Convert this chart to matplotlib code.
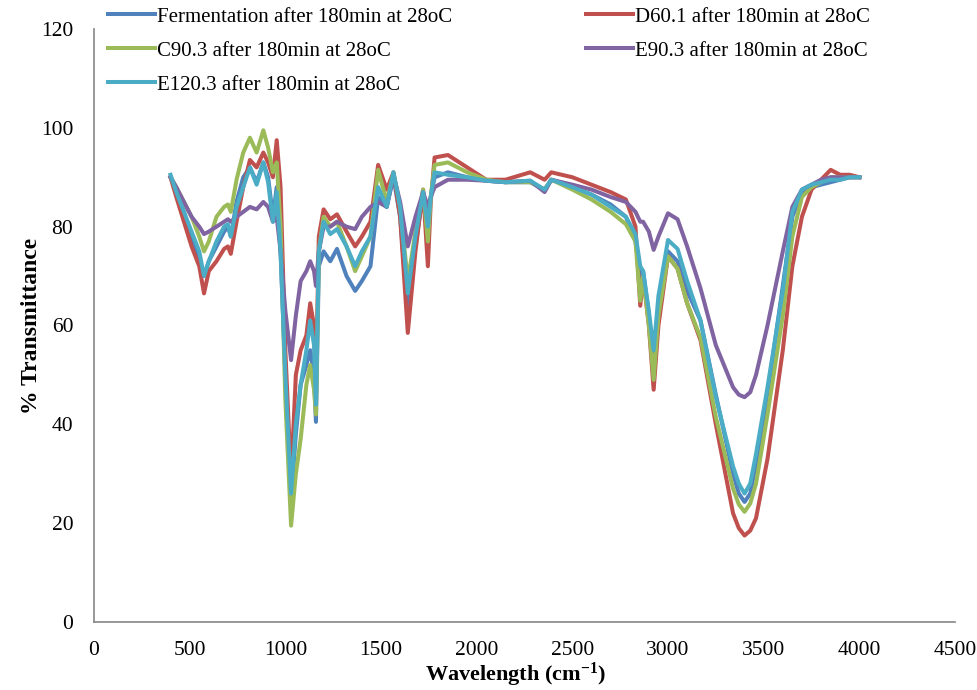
import numpy as np
import matplotlib
matplotlib.use("Agg")
import matplotlib.pyplot as plt

# FTIR spectra (wavenumber in cm-1, % transmittance)
wavenumber = [400, 430, 470, 510, 550, 575, 600, 640, 680, 700, 715, 745, 780, 815, 850,
              885, 910, 935, 955, 975, 1000, 1030, 1055, 1080, 1110, 1130, 1150, 1160, 1175,
              1200, 1235, 1270, 1320, 1365, 1400, 1445, 1485, 1530, 1565, 1600, 1640, 1680,
              1720, 1745, 1760, 1780, 1850, 1950, 2050, 2150, 2280, 2355, 2390, 2500, 2600,
              2700, 2780, 2830, 2855, 2870, 2900, 2925, 2950, 3000, 3050, 3100, 3170, 3250,
              3340, 3370, 3400, 3430, 3460, 3520, 3600, 3650, 3700, 3750, 3800, 3850, 3900,
              3950, 4000]

fermentation = [90, 87, 83, 78, 73, 70, 73, 76, 79, 80, 78, 85, 90, 92, 89,
                93, 90, 82, 88, 75, 50, 25, 38, 48, 52, 55, 50, 40.5, 72,
                75, 73, 75.5, 70, 67, 69, 72, 86, 84, 90, 82, 62.5, 76,
                87, 80, 86, 90, 91, 90, 89.3, 89, 89, 87.5, 89.5, 88, 86.5,
                84.5, 82, 77, 70, 71, 62, 50, 63, 75, 73, 67, 61, 46,
                30, 26, 24.3, 26, 32, 46, 68, 82, 87, 88, 88.5, 89, 89.5,
                90, 90]

d60 = [90, 86, 81, 76, 72, 66.5, 71, 73, 75.5, 76, 74.5, 81, 88, 93.5, 92,
       95, 93, 90, 97.5, 88, 55, 29, 50, 55, 58, 64.5, 60, 48, 78,
       83.5, 81.5, 82.5, 79, 76, 78, 81, 92.5, 87.5, 91, 82, 58.5, 75,
       87.5, 72, 85, 94, 94.5, 92, 89.5, 89.5, 91, 89.5, 91, 90, 88.5,
       87, 85.5, 80, 64, 70, 60, 47, 60, 74, 71.5, 64.5, 57, 40,
       22, 19, 17.5, 18.5, 21, 33, 55, 72, 82, 87.5, 89.5, 91.5, 90.5,
       90.5, 90]

c90 = [90, 88, 85, 82, 78, 75, 77, 82, 84, 84.5, 83, 89.5, 95, 98, 95,
       99.5, 96, 91, 93, 80, 45, 19.5, 30, 37, 48, 52, 47, 42, 75,
       82, 80, 81, 76, 71, 74, 78, 91.5, 85, 91, 84, 69, 79,
       87.5, 77, 86, 92.5, 93, 91, 89.5, 89, 89, 87.5, 89.5, 87.5, 85.5,
       83, 80.5, 77, 65, 70, 60, 49, 62, 74, 71.5, 64.5, 57.5, 41.5,
       27, 23.8, 22.3, 24, 28, 42, 62, 78, 86, 88, 89, 90, 90,
       90, 90]

e90 = [90, 88, 85, 82, 80, 78.5, 79, 80, 81, 81.5, 81, 82, 83, 84, 83.5,
       85, 84, 81, 82, 75, 63, 53, 62, 69, 71, 73, 71, 68, 75,
       80, 80, 81, 80, 79.5, 82, 84, 85, 84, 90.5, 85, 76, 82,
       87, 84, 86, 88, 89.5, 89.5, 89.3, 89, 89.3, 87, 89.5, 88.5, 87.5,
       86, 85, 83, 81, 81, 79, 75.3, 78, 82.7, 81.5, 76, 67.5, 56,
       47.5, 46, 45.5, 46.5, 50, 60, 75, 84, 87.5, 88.5, 89.5, 90, 90,
       90, 90]

e120 = [90.5, 87, 83, 79, 75, 70, 73, 77, 80, 80.5, 78, 84, 88, 92, 88.5,
        93, 89, 81, 87, 75, 50, 26, 40, 48, 55, 61, 56, 44, 75,
        81, 78.5, 79.5, 76, 72, 75, 78, 88, 84, 91, 84, 66.5, 78,
        87, 80, 86, 91, 90.5, 90, 89.3, 89, 89.3, 87.5, 89.5, 88, 86.5,
        84, 82, 78.5, 72, 71, 63, 55, 66, 77.3, 75.5, 69, 61, 45.5,
        31.5, 28, 26, 28, 34, 47.5, 67, 83, 87.5, 88.5, 89, 89.5, 89.5,
        90, 90]

labels = ["Fermentation after 180min at 28oC", "D60.1 after 180min at 28oC",
          "C90.3 after 180min at 28oC", "E90.3 after 180min at 28oC",
          "E120.3 after 180min at 28oC"]
colors = ["#4F81BD", "#C0504D", "#9BBB59", "#8064A2", "#4BACC6"]

plt.rcParams["font.family"] = ["Liberation Serif", "DejaVu Serif"]
plt.rcParams["mathtext.default"] = "regular"

fig = plt.figure(figsize=(9.78, 6.9), dpi=100)
ax = fig.add_axes([94 / 978, 1 - 622 / 690, 861 / 978, 593 / 690])

lines = []
for ys, lab, col in zip([fermentation, d60, c90, e90, e120], labels, colors):
    ln, = ax.plot(wavenumber, ys, color=col, lw=2.9, label=lab, solid_joinstyle="round")
    lines.append(ln)

ax.set_xlim(0, 4500)
ax.set_ylim(0, 120)
ax.set_xticks(np.arange(0, 4501, 500))
ax.set_yticks(np.arange(0, 121, 20))
ax.tick_params(length=0, labelsize=15.5)
ax.tick_params(axis="y", pad=15)
ax.tick_params(axis="x", pad=14)
for s in ["top", "right"]:
    ax.spines[s].set_visible(False)
for s in ["left", "bottom"]:
    ax.spines[s].set_color("#868686")
    ax.spines[s].set_linewidth(1.2)

ax.set_xlabel("Wavelength (cm$^{-1}$)", fontsize=16, fontweight="bold")
ax.set_ylabel("% Transmittance", fontsize=17, fontweight="bold")
ax.xaxis.set_label_coords(0.49, -0.066)
ax.yaxis.set_label_coords(-0.06, 0.5)

# legend fills row by row in the reference; matplotlib fills columns
order = [0, 2, 4, 1, 3]
fig.legend([lines[i] for i in order], [labels[i] for i in order], ncol=2,
           loc="upper left", bbox_to_anchor=(108 / 978, 1 - 7 / 690),
           frameon=False, fontsize=15, borderpad=0, borderaxespad=0,
           handlelength=2.26, handletextpad=0.1, columnspacing=6.4,
           labelspacing=0.69)

fig.savefig("out.png", dpi=100)
